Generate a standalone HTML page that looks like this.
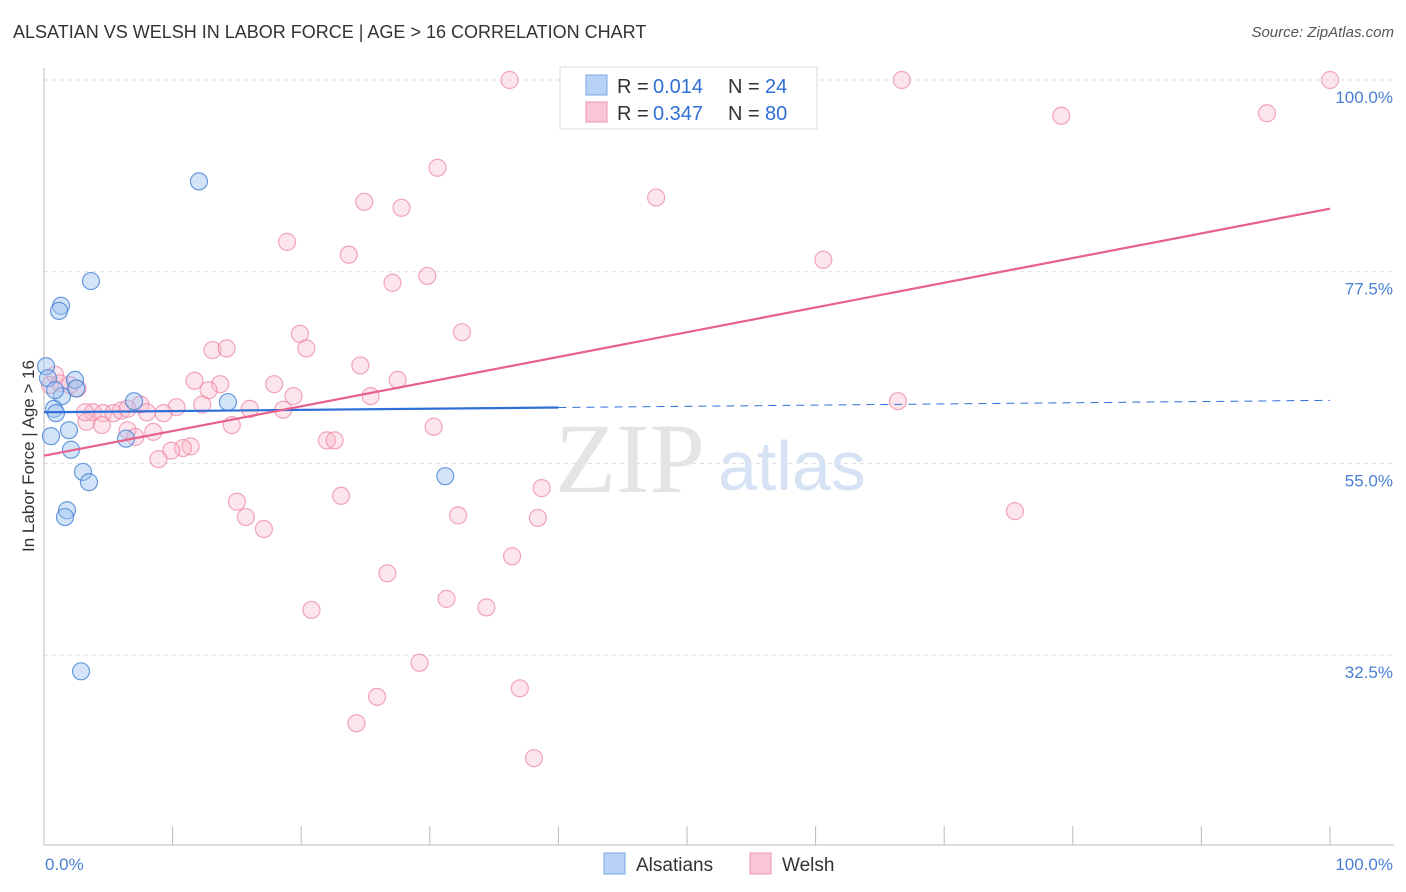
<!DOCTYPE html>
<html><head><meta charset="utf-8"><style>
body{margin:0;background:#fff;font-family:"Liberation Sans",sans-serif;}
#wrap{position:relative;width:1406px;height:892px;overflow:hidden;}
.t{position:absolute;white-space:nowrap;}
</style></head><body>
<div id="wrap">
<div class="t" style="left:13px;top:22px;font-size:18px;color:#333;">ALSATIAN VS WELSH IN LABOR FORCE | AGE &gt; 16 CORRELATION CHART</div>
<div class="t" style="right:12px;top:24px;font-size:15px;color:#555;font-style:italic;">Source: ZipAtlas.com</div>
<svg id="svg" width="1406" height="892" style="position:absolute;left:0;top:0"></svg>
</div>
<script>
const yTicks=[100,77.5,55,32.5];
const yTickLabels=["100.0%","77.5%","55.0%","32.5%"];
const xTickLabels=["0.0%","100.0%"];
const blueX=[12.05,3.65,1.32,1.17,0.16,2.41,1.40,0.78,0.93,7.0,14.3,1.94,0.54,6.38,2.10,3.03,3.50,31.2,1.79,1.63,2.88,0.31,0.86,2.5];
const blueY=[88.1,76.4,73.5,72.9,66.4,64.8,62.9,61.4,60.9,62.3,62.2,58.9,58.2,57.9,56.6,54.0,52.8,53.5,49.5,48.7,30.6,65.0,63.6,63.8];
const pinkX=[36.2,41.3,43.5,66.7,100,79.1,95.1,30.6,47.6,24.9,27.8,18.9,23.7,60.6,29.8,27.1,19.9,32.5,20.4,13.1,14.2,24.6,27.5,11.7,13.7,17.9,12.8,2.6,0.86,0.47,1.24,2.02,25.4,19.4,66.4,7.5,12.3,10.3,16.0,18.6,3.8,4.6,5.4,6.0,6.5,9.3,8.0,3.3,4.5,14.6,30.3,6.5,8.5,7.1,22.0,22.6,11.4,10.8,9.9,8.9,38.7,23.1,15.0,32.2,38.4,15.7,17.1,75.5,36.4,26.7,31.3,34.4,20.8,29.2,37.0,25.9,24.3,38.1,3.2];
const pinkY=[100,100,100,100,100,95.8,96.1,89.7,86.2,85.7,85.0,81.0,79.5,78.9,77.0,76.2,70.2,70.4,68.5,68.3,68.5,66.5,64.8,64.7,64.3,64.3,63.6,63.8,65.4,64.2,64.4,64.2,62.9,62.9,62.3,61.9,61.9,61.6,61.4,61.3,61.0,60.9,60.9,61.2,61.4,60.9,61.0,59.9,59.5,59.5,59.3,58.9,58.7,58.1,57.7,57.7,57.0,56.8,56.5,55.5,52.1,51.2,50.5,48.9,48.6,48.7,47.3,49.4,44.1,42.1,39.1,38.1,37.8,31.6,28.6,27.6,24.5,20.4,61.0];
const blueTrend=[61.0,62.4];
const pinkTrend=[55.9,84.9];
const NS="http://www.w3.org/2000/svg";
const svg=document.getElementById('svg');
const X=v=>44+v*12.86;
const Y=v=>80+(100-v)*8.52;
function mk(tag,attrs,name){const e=document.createElementNS(NS,tag);for(const k in attrs)e.setAttribute(k,attrs[k]);


svg.appendChild(e);return e;}
yTicks.forEach((v,i)=>{
 mk('line',{x1:44,x2:1394,y1:Y(v),y2:Y(v),stroke:'#ddd','stroke-dasharray':'4,4'},'y-gridline');
 const t=mk('text',{x:1393,y:Y(v)+23,'text-anchor':'end','font-size':17,fill:'#4a7fd4','font-family':'Liberation Sans'},'y-tick-label');t.textContent=yTickLabels[i];
});
mk('line',{x1:44,x2:44,y1:68,y2:845,stroke:'#bbb'},'y-axis');
mk('line',{x1:44,x2:1394,y1:845,y2:845,stroke:'#bbb'},'x-axis');
for(let i=0;i<=10;i++)mk('line',{x1:X(i*10),x2:X(i*10),y1:826,y2:845,stroke:'#bbb'},'x-tick');
let t=mk('text',{x:45,y:870,'font-size':17,fill:'#4a7fd4','font-family':'Liberation Sans'},'x-tick-label');t.textContent=xTickLabels[0];
t=mk('text',{x:1393,y:870,'text-anchor':'end','font-size':17,fill:'#4a7fd4','font-family':'Liberation Sans'},'x-tick-label');t.textContent=xTickLabels[1];
t=mk('text',{x:34,y:456,'text-anchor':'middle','font-size':17,fill:'#333','font-family':'Liberation Sans',transform:'rotate(-90 34 456)'},'y-axis-title');t.textContent='In Labor Force | Age > 16';
t=mk('text',{x:555,y:492,'font-size':100,fill:'#e4e4e4','font-family':'Liberation Serif'},'watermark-zip');t.textContent='ZIP';
t=mk('text',{x:718,y:490,'font-size':70,fill:'#d6e3f5','font-family':'Liberation Sans'},'watermark-atlas');t.textContent='atlas';
pinkX.forEach((x,i)=>mk('circle',{cx:X(x),cy:Y(pinkY[i]),r:8.5,fill:'rgba(248,180,200,0.35)',stroke:'rgba(235,130,160,0.7)','stroke-width':1.2},'welsh-point'));
blueX.forEach((x,i)=>mk('circle',{cx:X(x),cy:Y(blueY[i]),r:8.5,fill:'rgba(160,195,240,0.45)',stroke:'rgba(70,130,215,0.8)','stroke-width':1.2},'alsatian-point'));
const bAt=v=>blueTrend[0]+(blueTrend[1]-blueTrend[0])*v/100;
mk('line',{x1:X(0),y1:Y(bAt(0)),x2:X(40),y2:Y(bAt(40)),stroke:'#2f6fd6','stroke-width':2.2},'alsatian-trend-line');
mk('line',{x1:X(40),y1:Y(bAt(40)),x2:X(100),y2:Y(bAt(100)),stroke:'#2f6fd6','stroke-width':1,'stroke-dasharray':'8,6'},'alsatian-trend-extension');
mk('line',{x1:X(0),y1:Y(pinkTrend[0]),x2:X(100),y2:Y(pinkTrend[1]),stroke:'#e8608c','stroke-width':2.2},'welsh-trend-line');
mk('rect',{x:560,y:67,width:257,height:62,fill:'#fff',stroke:'#ddd'},'legend-box');
mk('rect',{x:586,y:75,width:21,height:20,fill:'#b8d2f5',stroke:'#7aa7e5'},'legend-swatch-alsatians');
mk('rect',{x:586,y:102,width:21,height:20,fill:'#f9c6d6',stroke:'#ee94b2'},'legend-swatch-welsh');
[[93,'0.014','24'],[120,'0.347','80']].forEach(r=>{
 let a=mk('text',{x:617,y:r[0],'font-size':20,fill:'#333','font-family':'Liberation Sans'},'legend-r-label');a.textContent='R = ';
 a=mk('text',{x:653,y:r[0],'font-size':20,fill:'#2f6fd6','font-family':'Liberation Sans'},'legend-r-value');a.textContent=r[1];
 a=mk('text',{x:728,y:r[0],'font-size':20,fill:'#333','font-family':'Liberation Sans'},'legend-n-label');a.textContent='N = ';
 a=mk('text',{x:765,y:r[0],'font-size':20,fill:'#2f6fd6','font-family':'Liberation Sans'},'legend-n-value');a.textContent=r[2];
});
mk('rect',{x:604,y:853,width:21,height:21,fill:'#b8d2f5',stroke:'#7aa7e5'},'bottom-legend-swatch-alsatians');
t=mk('text',{x:636,y:871,'font-size':19,fill:'#333','font-family':'Liberation Sans'},'bottom-legend-alsatians');t.textContent='Alsatians';
mk('rect',{x:750,y:853,width:21,height:21,fill:'#f9c6d6',stroke:'#ee94b2'},'bottom-legend-swatch-welsh');
t=mk('text',{x:782,y:871,'font-size':19,fill:'#333','font-family':'Liberation Sans'},'bottom-legend-welsh');t.textContent='Welsh';
</script>
</body></html>
